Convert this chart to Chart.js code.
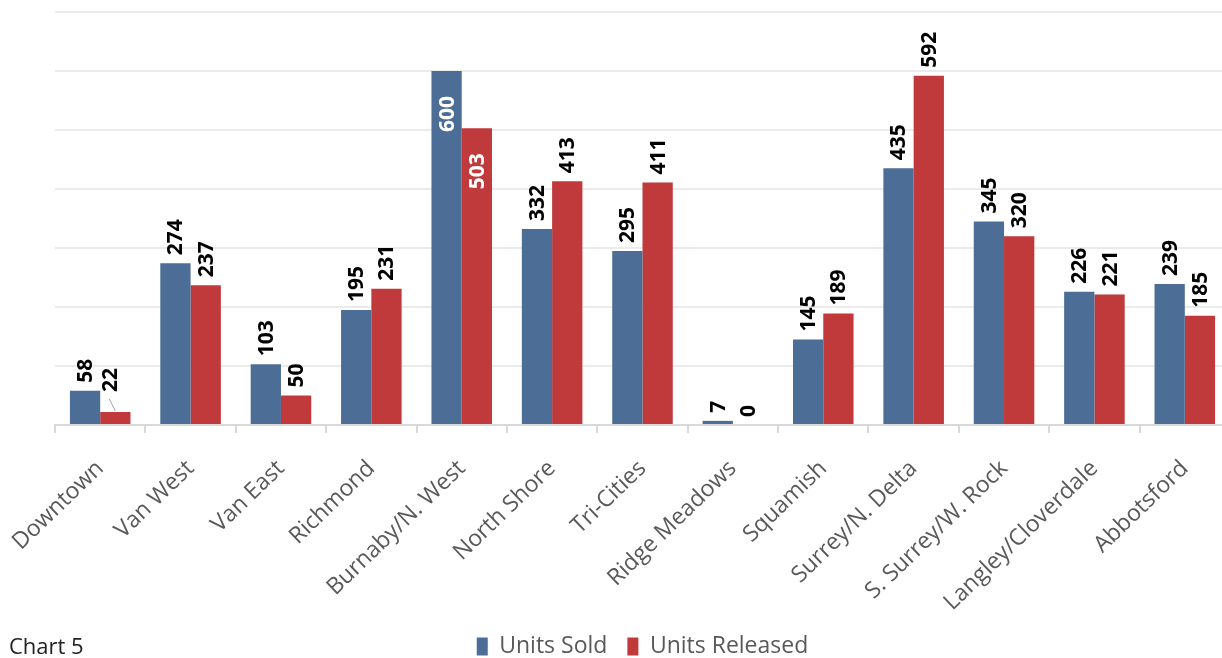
<!DOCTYPE html>
<html>
<head>
<meta charset="utf-8">
<script src="https://cdn.jsdelivr.net/npm/chart.js@4.4.1/dist/chart.umd.min.js"></script>
<style>
  html, body { margin: 0; padding: 0; background: #fff; overflow: hidden; }
  #wrap { position: relative; width: 1232px; height: 668px; }
  #note { position: absolute; left: 9px; top: 630px; font: 22px "Open Sans", sans-serif; color: #222; }
</style>
</head>
<body>
<div id="wrap">
  <canvas id="chart5" width="1232" height="668"></canvas>
  <div id="note">Chart 5</div>
</div>
<script>
var regions = ['Downtown', 'Van West', 'Van East', 'Richmond', 'Burnaby/N. West', 'North Shore',
  'Tri-Cities', 'Ridge Meadows', 'Squamish', 'Surrey/N. Delta', 'S. Surrey/W. Rock',
  'Langley/Cloverdale', 'Abbotsford'];
var unitsSold = [58, 274, 103, 195, 600, 332, 295, 7, 145, 435, 345, 226, 239];
var unitsReleased = [22, 237, 50, 231, 503, 413, 411, 0, 189, 592, 320, 221, 185];

// bars whose label sits inside the top of the bar (white text)
var insideIdx = [4];

var barLabels = {
    id: 'barLabels',
    afterDatasetsDraw: function(chart) {
        var ctx = chart.ctx;
        ctx.save();
        ctx.font = 'bold 21px "Open Sans", sans-serif';
        ctx.textBaseline = 'middle';
        chart.data.datasets.forEach(function(ds, di) {
            var meta = chart.getDatasetMeta(di);
            meta.data.forEach(function(bar, i) {
                var txt = String(ds.data[i]);
                var x = bar.x;
                var y = bar.y;
                ctx.save();
                if (insideIdx.indexOf(i) >= 0) {
                    ctx.fillStyle = '#ffffff';
                    ctx.textAlign = 'right';
                    ctx.translate(x, y + 25);
                } else {
                    ctx.fillStyle = '#000000';
                    ctx.textAlign = 'left';
                    var gap = 8;
                    if (i === 0 && di === 1) {
                        // leader line for the small Downtown label
                        ctx.strokeStyle = '#a6a6a6';
                        ctx.lineWidth = 1;
                        ctx.beginPath();
                        ctx.moveTo(x - 6, y - 13);
                        ctx.lineTo(x, y - 1);
                        ctx.stroke();
                        x = x - 5;
                        gap = 20;
                    }
                    ctx.translate(x, y - gap);
                }
                ctx.rotate(-Math.PI / 2);
                ctx.fillText(txt, 0, 1);
                ctx.restore();
            });
        });
        ctx.restore();
    }
};

new Chart(document.getElementById('chart5'), {
    type: 'bar',
    data: {
        labels: regions,
        datasets: [{
            label: 'Units Sold',
            data: unitsSold,
            backgroundColor: '#4c6d96'
        }, {
            label: 'Units Released',
            data: unitsReleased,
            backgroundColor: '#c0393b'
        }]
    },
    options: {
        responsive: false,
        animation: false,
        layout: {
            padding: { left: 55, right: 2, top: 12, bottom: 0 }
        },
        datasets: {
            bar: { barPercentage: 1, categoryPercentage: 0.67 }
        },
        plugins: {
            legend: {
                position: 'bottom',
                labels: {
                    boxWidth: 11,
                    boxHeight: 18,
                    padding: 20,
                    color: '#595959',
                    font: { family: '"Open Sans", sans-serif', size: 23 }
                }
            },
            tooltip: { enabled: false }
        },
        scales: {
            x: {
                grid: {
                    offset: true,
                    drawOnChartArea: false,
                    tickLength: 8,
                    color: '#d9d9d9',
                    lineWidth: 2
                },
                border: { color: '#d9d9d9', width: 2 },
                ticks: {
                    minRotation: 44,
                    maxRotation: 44,
                    autoSkip: false,
                    padding: 22,
                    color: '#595959',
                    font: { family: '"Open Sans", sans-serif', size: 23 }
                },
                afterFit: function(scale) {
                    scale.height = 190;
                    // let the first rotated label hang into the left margin
                    scale.paddingLeft = 0;
                    scale.paddingRight = 0;
                }
            },
            y: {
                min: 0,
                max: 700,
                ticks: { display: false, stepSize: 100 },
                grid: { color: '#ebebeb', lineWidth: 2, drawTicks: false },
                border: { display: false }
            }
        }
    },
    plugins: [barLabels]
});
</script>
</body>
</html>
